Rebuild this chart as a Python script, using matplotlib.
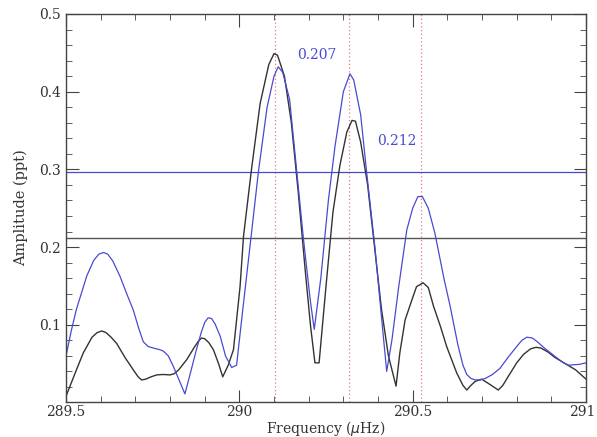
import numpy as np
import matplotlib
matplotlib.use("Agg")
import matplotlib.pyplot as plt
from matplotlib.ticker import MultipleLocator, FuncFormatter

# black spectrum (frequency in uHz, amplitude in ppt)
f_black = [289.500, 289.515, 289.530, 289.550, 289.575, 289.590, 289.603, 289.615, 289.630,
           289.646, 289.670, 289.694, 289.708, 289.718, 289.730, 289.745, 289.762, 289.780,
           289.800, 289.812, 289.825, 289.848, 289.870, 289.882, 289.891, 289.900, 289.912,
           289.925, 289.940, 289.952, 289.968, 289.983, 290.002, 290.012, 290.035, 290.060,
           290.085, 290.100, 290.110, 290.130, 290.150, 290.170, 290.190, 290.205, 290.218,
           290.230, 290.250, 290.270, 290.290, 290.310, 290.325, 290.335, 290.350, 290.370,
           290.390, 290.410, 290.430, 290.452, 290.463, 290.478, 290.500, 290.511, 290.530,
           290.545, 290.560, 290.580, 290.598, 290.627, 290.645, 290.656, 290.668, 290.680,
           290.699, 290.720, 290.747, 290.760, 290.775, 290.800, 290.820, 290.840, 290.856,
           290.870, 290.890, 290.910, 290.940, 290.970, 291.000]
a_black = [0.008, 0.025, 0.042, 0.064, 0.084, 0.090, 0.092, 0.090, 0.084,
           0.076, 0.058, 0.042, 0.033, 0.029, 0.030, 0.033, 0.0355, 0.036,
           0.0355, 0.037, 0.042, 0.055, 0.071, 0.079, 0.083, 0.082, 0.077,
           0.068, 0.050, 0.033, 0.048, 0.068, 0.149, 0.214, 0.300, 0.385,
           0.435, 0.449, 0.447, 0.420, 0.360, 0.270, 0.170, 0.100, 0.051,
           0.051, 0.150, 0.245, 0.305, 0.348, 0.363, 0.362, 0.335, 0.280,
           0.200, 0.120, 0.060, 0.021, 0.064, 0.106, 0.135, 0.149, 0.154,
           0.148, 0.124, 0.098, 0.072, 0.038, 0.022, 0.016, 0.022, 0.027,
           0.030, 0.024, 0.016, 0.022, 0.033, 0.051, 0.062, 0.069, 0.071,
           0.070, 0.065, 0.058, 0.050, 0.042, 0.030]

# blue spectrum
f_blue = [289.500, 289.515, 289.530, 289.560, 289.580, 289.595, 289.608, 289.620, 289.635,
          289.656, 289.675, 289.694, 289.710, 289.723, 289.737, 289.752, 289.770, 289.781,
          289.795, 289.810, 289.843, 289.860, 289.875, 289.890, 289.900, 289.910, 289.920,
          289.930, 289.945, 289.960, 289.978, 289.992, 290.010, 290.036, 290.055, 290.080,
          290.100, 290.112, 290.125, 290.145, 290.165, 290.185, 290.205, 290.216, 290.235,
          290.257, 290.276, 290.300, 290.319, 290.330, 290.350, 290.367, 290.391, 290.410,
          290.425, 290.440, 290.460, 290.483, 290.500, 290.515, 290.528, 290.545, 290.564,
          290.590, 290.608, 290.630, 290.645, 290.656, 290.668, 290.680, 290.695, 290.710,
          290.730, 290.752, 290.775, 290.800, 290.815, 290.829, 290.845, 290.860, 290.880,
          290.900, 290.920, 290.935, 290.950, 290.964, 290.980, 291.000]
a_blue = [0.060, 0.092, 0.120, 0.163, 0.183, 0.191, 0.193, 0.191, 0.182,
          0.162, 0.140, 0.119, 0.095, 0.078, 0.072, 0.070, 0.068, 0.066,
          0.060, 0.046, 0.011, 0.040, 0.066, 0.090, 0.103, 0.109, 0.108,
          0.101, 0.085, 0.060, 0.045, 0.048, 0.120, 0.222, 0.297, 0.380,
          0.420, 0.432, 0.425, 0.390, 0.300, 0.210, 0.130, 0.094, 0.160,
          0.261, 0.330, 0.400, 0.423, 0.415, 0.370, 0.297, 0.200, 0.110,
          0.040, 0.080, 0.150, 0.222, 0.250, 0.265, 0.265, 0.250, 0.218,
          0.160, 0.124, 0.075, 0.048, 0.036, 0.031, 0.029, 0.029, 0.031,
          0.036, 0.044, 0.058, 0.072, 0.080, 0.084, 0.083, 0.078, 0.070,
          0.063, 0.056, 0.051, 0.048, 0.0485, 0.049, 0.051]

peaks = [290.103, 290.316, 290.523]
level_blue = 0.296
level_black = 0.212
spacings = ["0.207", "0.212"]
xmax = 291

plt.rcParams['font.family'] = ['DejaVu Serif']
fig = plt.figure(figsize=(5.97, 4.37), dpi=100)
ax = fig.add_axes([0.1106, 0.0808, 0.8710, 0.8872])

for p in peaks:
    ax.axvline(p, color='#e07a7a', lw=0.9, ls=(0, (1, 2)))
ax.axhline(level_blue, color='#4848c8', lw=0.9)
ax.axhline(level_black, color='#555555', lw=1.0)

ax.plot(f_black, a_black, color='#333333', lw=1.0)
ax.plot(f_blue, a_blue, color='#4a4ad0', lw=0.9)

ax.text(290.224, 0.447, spacings[0], color='#4a4ad0', fontsize=10, ha='center', va='center')
ax.text(290.455, 0.336, spacings[1], color='#4a4ad0', fontsize=10, ha='center', va='center')

ax.set_xlim(289.5, xmax)
ax.set_ylim(0.001, 0.5)
ax.xaxis.set_major_locator(MultipleLocator(0.5))
ax.xaxis.set_minor_locator(MultipleLocator(0.1))
ax.yaxis.set_major_locator(MultipleLocator(0.1))
ax.yaxis.set_minor_locator(MultipleLocator(0.02))
# last label is drawn separately, a bit nudged so it fits in the figure
ax.xaxis.set_major_formatter(FuncFormatter(lambda v, p: '' if v >= xmax else '%g' % v))
ax.yaxis.set_major_formatter(FuncFormatter(lambda v, p: '%g' % round(v, 3)))
ax.tick_params(which='both', direction='in', top=True, right=True, colors='#444444',
               labelcolor='#333333', labelsize=10)
ax.tick_params(axis='x', pad=2.5)
ax.tick_params(which='major', length=9)
ax.tick_params(which='minor', length=4.5)
for s in ax.spines.values():
    s.set_color('#444444')
    s.set_linewidth(1.0)

ax.annotate('%g' % xmax, xy=(xmax, 0), xycoords=('data', 'axes fraction'),
            xytext=(-3, -2.5), textcoords='offset points', ha='center', va='top',
            fontsize=10, color='#333333')

ax.set_xlabel(r'Frequency ($\mu$Hz)', fontsize=10, color='#333333', labelpad=0)
ax.set_ylabel('Amplitude (ppt)', fontsize=10.5, color='#333333', labelpad=8)

fig.savefig('out.png', dpi=100)
